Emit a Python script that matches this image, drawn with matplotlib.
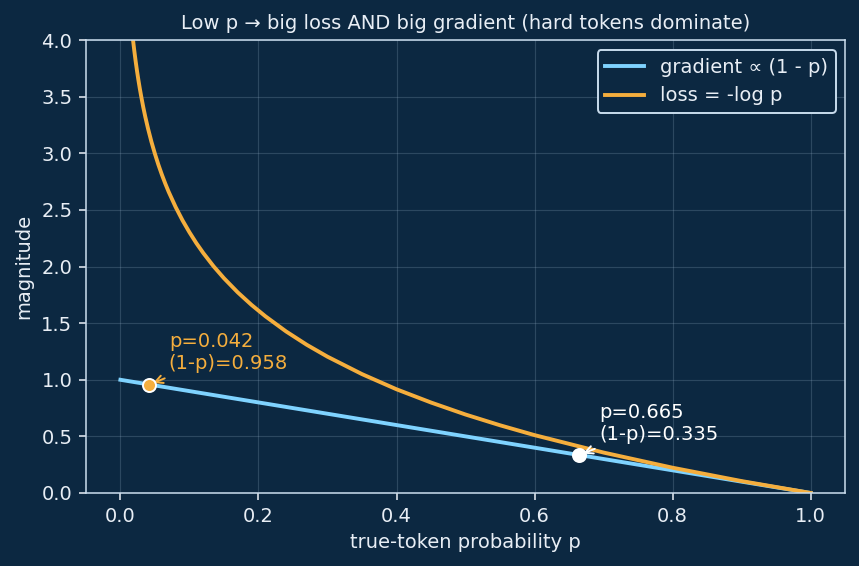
import matplotlib
matplotlib.use("Agg")
import matplotlib.pyplot as plt

# values
p_grad = [0.0, 1.0]
grad_vals = [1.0, 0.0]

p_loss = [0.015, 0.016, 0.017, 0.018, 0.019, 0.02, 0.022, 0.024, 0.026, 0.028,
          0.03, 0.033, 0.036, 0.04, 0.045, 0.05, 0.055, 0.06, 0.065, 0.07,
          0.08, 0.09, 0.1, 0.11, 0.12, 0.135, 0.15, 0.17, 0.19, 0.21, 0.24,
          0.27, 0.3, 0.35, 0.4, 0.45, 0.5, 0.55, 0.6, 0.7, 0.8, 0.9, 1.0]
loss_vals = [4.200, 4.135, 4.075, 4.017, 3.963, 3.912, 3.817, 3.730, 3.650,
             3.576, 3.507, 3.411, 3.324, 3.219, 3.101, 2.996, 2.900, 2.813,
             2.733, 2.659, 2.526, 2.408, 2.303, 2.207, 2.120, 2.002, 1.897,
             1.772, 1.661, 1.561, 1.427, 1.309, 1.204, 1.050, 0.916, 0.799,
             0.693, 0.598, 0.511, 0.357, 0.223, 0.105, 0.0]

hard_p, hard_g = 0.042, 0.958
easy_p, easy_g = 0.665, 0.335

bg = "#0c2841"
fg = "#e8eef5"
spine = "#c9dced"
blue = "#7fd3ff"
orange = "#f5ae3d"

fig, ax = plt.subplots(figsize=(859 / 140, 566 / 140), dpi=140)
fig.patch.set_facecolor(bg)
ax.set_facecolor(bg)

ax.plot(p_grad, grad_vals, color=blue, lw=2, label="gradient \u221d (1 - p)")
ax.plot(p_loss, loss_vals, color=orange, lw=2, label="loss = -log p")

ax.scatter([hard_p], [hard_g], s=45, color=orange, edgecolor="white", lw=1.0, zorder=5)
ax.scatter([easy_p], [easy_g], s=45, color="white", edgecolor="white", lw=1.0, zorder=5)

ax.annotate(f"p={hard_p:.3f}\n(1-p)={hard_g:.3f}", xy=(hard_p, hard_g),
            xytext=(10, 8), textcoords="offset points", color=orange, fontsize=10,
            arrowprops=dict(arrowstyle="->", color=orange, lw=1.0))
ax.annotate(f"p={easy_p:.3f}\n(1-p)={easy_g:.3f}", xy=(easy_p, easy_g),
            xytext=(10, 8), textcoords="offset points", color="white", fontsize=10,
            arrowprops=dict(arrowstyle="->", color="white", lw=1.0))

ax.set_ylim(0, 4)
ax.set_xlabel("true-token probability p", color=fg, fontsize=10)
ax.set_ylabel("magnitude", color=fg, fontsize=10)
ax.set_title("Low p \u2192 big loss AND big gradient (hard tokens dominate)", color=fg, fontsize=10)
ax.tick_params(colors=fg, labelsize=10)
for s in ax.spines.values():
    s.set_color(spine)
ax.grid(True, color="#8fa8c0", alpha=0.25, lw=0.6)

leg = ax.legend(loc="upper right", facecolor=bg, edgecolor=spine, fontsize=10, framealpha=1)
for t in leg.get_texts():
    t.set_color(fg)

fig.subplots_adjust(left=0.100, right=0.984, top=0.929, bottom=0.129)
plt.savefig("out.png", facecolor=bg)
